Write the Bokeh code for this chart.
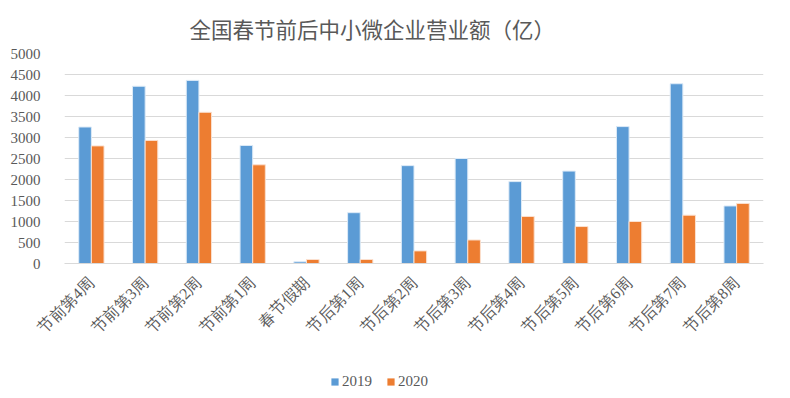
import math
from bokeh.plotting import figure
from bokeh.layouts import column
from bokeh.models import (ColumnDataSource, FactorRange, Range1d, SingleIntervalTicker,
                          Legend, LegendItem)
from bokeh.transform import dodge
from bokeh.embed import file_html
from bokeh.resources import INLINE

categories = ["节前第4周", "节前第3周", "节前第2周", "节前第1周", "春节假期",
              "节后第1周", "节后第2周", "节后第3周", "节后第4周", "节后第5周",
              "节后第6周", "节后第7周", "节后第8周"]
values_2019 = [3250, 4220, 4360, 2810, 40, 1210, 2330, 2500, 1950, 2200, 3260, 4280, 1370]
values_2020 = [2800, 2930, 3600, 2350, 95, 95, 300, 560, 1120, 880, 1000, 1150, 1430]
series_names = ["2019", "2020"]
y_ticks_interval = 500

COLORS = ["#5B9BD5", "#ED7D31"]
EDGES = ["#DCEAF7", "#FBE0CF"]
SERIF = "Liberation Serif"
GREY = "#595959"

src = ColumnDataSource(dict(cat=categories, v2019=values_2019, v2020=values_2020))

p = figure(width=774, height=356, output_backend="svg", toolbar_location=None,
           x_range=FactorRange(factors=categories, range_padding=0),
           y_range=Range1d(0, 5000),
           min_border_left=64, min_border_right=11, min_border_top=53, min_border_bottom=93)

bw = 0.235
p.vbar(x=dodge("cat", -bw / 2, range=p.x_range), top="v2019", width=bw, source=src,
       fill_color=COLORS[0], line_color=EDGES[0], line_width=1)
p.vbar(x=dodge("cat", bw / 2, range=p.x_range), top="v2020", width=bw, source=src,
       fill_color=COLORS[1], line_color=EDGES[1], line_width=1)

p.title.text = "全国春节前后中小微企业营业额（亿）"
p.title.text_font = "Noto Sans CJK SC"
p.title.text_font_size = "21.5px"
p.title.text_font_style = "normal"
p.title.text_color = GREY
p.title.align = "left"
p.title.offset = 125
p.title.standoff = 20

p.outline_line_color = None
p.xgrid.grid_line_color = None
p.ygrid.grid_line_color = "#D9D9D9"
p.ygrid.grid_line_width = 1

p.yaxis.ticker = SingleIntervalTicker(interval=y_ticks_interval)
p.yaxis.axis_line_color = None
p.yaxis.major_tick_line_color = None
p.yaxis.minor_tick_line_color = None
p.yaxis.major_label_text_font = SERIF
p.yaxis.major_label_text_font_size = "15px"
p.yaxis.major_label_text_color = GREY
p.yaxis.major_label_standoff = 18

p.xaxis.axis_line_color = "#D9D9D9"
p.xaxis.major_tick_line_color = None
p.xaxis.minor_tick_line_color = None
p.xaxis.major_label_orientation = math.pi / 4
p.xaxis.major_label_text_font = SERIF
p.xaxis.major_label_text_font_size = "16px"
p.xaxis.major_label_text_color = GREY
p.xaxis.major_label_standoff = 10

# legend strip below the chart; zero-width swatch renderers exist only for the legend
p2 = figure(width=774, height=42, output_backend="svg", toolbar_location=None,
            x_range=FactorRange(factors=categories), y_range=Range1d(0, 5000),
            x_axis_location=None, y_axis_location=None,
            min_border=0, outline_line_color=None)
p2.grid.visible = False
s1 = p2.vbar(x="cat", top="v2019", width=0, source=src, fill_color=COLORS[0], line_color=None)
s2 = p2.vbar(x="cat", top="v2020", width=0, source=src, fill_color=COLORS[1], line_color=None)
legend = Legend(items=[LegendItem(label=series_names[0], renderers=[s1]),
                       LegendItem(label=series_names[1], renderers=[s2])],
                orientation="horizontal", location=(266, 8),
                label_text_font=SERIF, label_text_font_size="15px", label_text_color=GREY,
                glyph_width=9, glyph_height=9, label_standoff=3, spacing=14,
                padding=0, margin=0, border_line_color=None, background_fill_alpha=0,
                label_height=18)
p2.add_layout(legend, "center")

layout = column(p, p2, spacing=0)
open("out.html", "w").write(file_html(layout, INLINE))
